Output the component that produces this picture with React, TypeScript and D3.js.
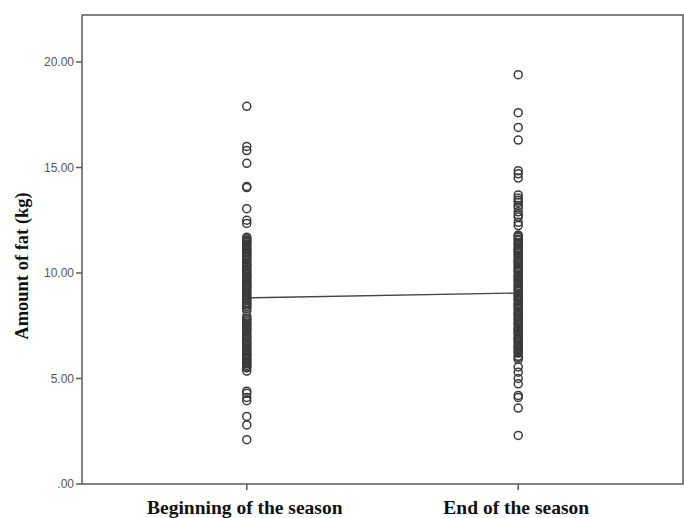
import React, { useEffect, useRef } from 'react';
import * as d3 from 'd3';

const categories = ['Beginning of the season', 'End of the season'];
const yTicks = [0, 5, 10, 15, 20];
const means = [8.82, 9.05];

const beginValues = [
  17.9, 16.0, 15.8, 15.2, 14.1, 14.05, 13.05, 12.5, 12.35,
  11.7, 11.62, 11.55, 11.5, 11.45, 11.38, 11.3, 11.22, 11.15, 11.1, 11.0, 10.95,
  10.88, 10.8, 10.72, 10.65, 10.6, 10.5, 10.42, 10.36, 10.3, 10.2, 10.15, 10.08,
  10.0, 9.92, 9.85, 9.8, 9.75, 9.66, 9.6, 9.52, 9.45, 9.4, 9.35, 9.28, 9.2, 9.1,
  9.05, 8.97, 8.9, 8.82, 8.76, 8.7, 8.6, 8.55, 8.48, 8.4, 8.32, 8.2, 7.95, 7.85,
  7.78, 7.7, 7.62, 7.55, 7.5, 7.4, 7.35, 7.28, 7.2, 7.1, 7.02, 6.95, 6.9, 6.8,
  6.72, 6.66, 6.6, 6.5, 6.45, 6.38, 6.3, 6.2, 6.14, 6.1, 6.02, 5.95, 5.9, 5.8,
  5.76, 5.7, 5.62, 5.55, 5.5, 5.35,
  4.4, 4.3, 4.1, 3.95, 3.2, 2.8, 2.1,
];

const endValues = [
  19.4, 17.6, 16.9, 16.3, 14.85, 14.7, 14.5, 13.7, 13.55, 13.45, 13.35, 13.2,
  13.1, 12.9, 12.75, 12.65, 12.4, 12.25, 11.8, 11.75, 11.7, 11.6, 11.55, 11.45,
  11.38, 11.3, 11.2, 11.15, 11.1, 11.02, 10.95, 10.85, 10.78, 10.7, 10.6, 10.55,
  10.5, 10.4, 10.32, 10.25, 10.15, 10.1, 10.05, 9.9, 9.84, 9.8, 9.7, 9.65, 9.6,
  9.5, 9.42, 9.35, 9.25, 9.2, 9.15, 9.0, 8.95, 8.9, 8.8, 8.75, 8.7, 8.55, 8.5,
  8.45, 8.35, 8.28, 8.2, 8.1, 8.05, 8.0, 7.9, 7.82, 7.75, 7.65, 7.6, 7.55, 7.4,
  7.35, 7.3, 7.2, 7.15, 7.1, 6.95, 6.9, 6.85, 6.75, 6.68, 6.6, 6.5, 6.45, 6.4,
  6.3, 6.25, 6.2, 6.05, 6.0, 5.9, 5.55, 5.3, 5.0, 4.75, 4.2, 4.1, 3.6, 2.3,
];

const W = 684;
const H = 518;

export default function App() {
  const ref = useRef<SVGSVGElement>(null);

  useEffect(() => {
    const svg = d3.select(ref.current);
    svg.selectAll('*').remove();

    const left = 82, right = 683, top = 15, bottom = 484;

    const x = d3.scalePoint<string>()
      .domain(categories)
      .range([left, right])
      .padding(0.607);
    const y = d3.scaleLinear().domain([0, 20]).range([bottom, 62]);

    // frame
    svg.append('rect')
      .attr('x', left)
      .attr('y', top)
      .attr('width', right - left)
      .attr('height', bottom - top)
      .attr('fill', 'none')
      .attr('stroke', '#5a5a5a')
      .attr('stroke-width', 1.5);

    // y axis ticks
    const yAxis = svg.append('g');
    yTicks.forEach((t) => {
      yAxis.append('line')
        .attr('x1', left - 6).attr('x2', left)
        .attr('y1', y(t)).attr('y2', y(t))
        .attr('stroke', '#5a5a5a').attr('stroke-width', 1.5);
      yAxis.append('text')
        .attr('x', left - 8)
        .attr('y', y(t))
        .attr('dy', '0.35em')
        .attr('text-anchor', 'end')
        .style('font-family', 'Liberation Sans, Arial, sans-serif')
        .style('font-size', '12px')
        .attr('fill', '#555')
        .text(t === 0 ? '.00' : t.toFixed(2));
    });

    // x axis ticks
    categories.forEach((c) => {
      svg.append('line')
        .attr('x1', x(c)).attr('x2', x(c))
        .attr('y1', bottom).attr('y2', bottom + 6)
        .attr('stroke', '#5a5a5a').attr('stroke-width', 1.5);
      svg.append('text')
        .attr('x', (x(c) as number) - 2)
        .attr('y', 514)
        .attr('text-anchor', 'middle')
        .style('font-family', 'Liberation Serif, Times New Roman, serif')
        .style('font-weight', 'bold')
        .style('font-size', '19.5px')
        .attr('fill', '#111')
        .text(c);
    });

    svg.append('text')
      .attr('transform', `translate(28, 266) rotate(-90)`)
      .attr('text-anchor', 'middle')
      .style('font-family', 'Liberation Serif, Times New Roman, serif')
      .style('font-weight', 'bold')
      .style('font-size', '18.5px')
      .attr('fill', '#111')
      .text('Amount of fat (kg)');

    // mean line
    const line = d3.line<number>()
      .x((_, i) => x(categories[i]) as number)
      .y((d) => y(d));
    svg.append('path')
      .datum(means)
      .attr('d', line)
      .attr('fill', 'none')
      .attr('stroke', '#444')
      .attr('stroke-width', 1.3);

    const series = [beginValues, endValues];
    series.forEach((vals, i) => {
      svg.append('g').selectAll('circle')
        .data(vals)
        .enter().append('circle')
        .attr('cx', x(categories[i]) as number)
        .attr('cy', (d) => y(d))
        .attr('r', 4)
        .attr('fill', 'none')
        .attr('stroke', '#3a3a3a')
        .attr('stroke-width', 1.5);
    });
  }, []);

  return (
    <svg
      ref={ref}
      width={W}
      height={H}
      style={{ position: 'absolute', left: 0, top: 0, background: '#fff' }}
    />
  );
}
